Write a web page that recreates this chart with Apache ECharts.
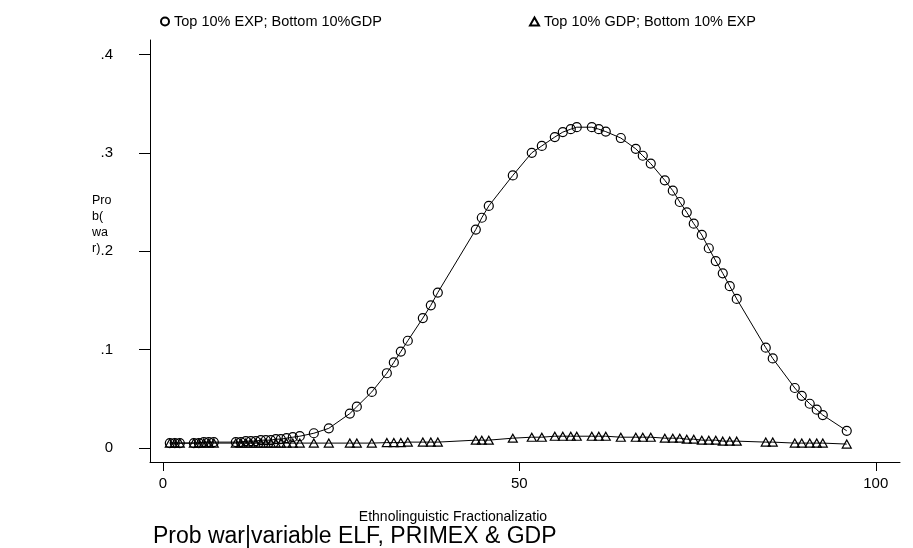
<!DOCTYPE html>
<html>
<head>
<meta charset="utf-8">
<script src="https://cdn.jsdelivr.net/npm/echarts@6/dist/echarts.min.js"></script>
<style>
html,body{margin:0;padding:0;background:#fff;}
#chart{width:913px;height:548px;}
</style>
</head>
<body>
<div id="chart"></div>
<script>
// ELF values (x) shared by both series
const elf = [0.98,1.68,2.38,4.35,5.05,5.75,6.45,7.15,10.24,10.94,11.64,12.34,13.04,13.74,14.45,15.15,15.85,16.55,
  17.35,18.23,19.21,21.18,23.28,26.23,27.21,29.31,31.42,32.4,33.38,34.36,36.47,37.59,38.57,43.9,44.74,45.72,
  49.09,51.75,53.16,54.98,56.1,57.22,58.06,60.17,61.15,62.13,64.24,66.34,67.32,68.44,70.41,71.53,72.51,73.49,
  74.47,75.6,76.58,77.56,78.54,79.52,80.5,84.57,85.55,88.64,89.62,90.74,91.72,92.57,95.93];

// Top 10% EXP; Bottom 10% GDP
const probHighExp = [0.005,0.005,0.005,0.005,0.005,0.006,0.006,0.006,0.006,0.006,0.007,0.007,0.007,0.008,0.008,0.008,0.009,0.009,
  0.010,0.011,0.012,0.015,0.020,0.035,0.042,0.057,0.076,0.087,0.098,0.109,0.132,0.145,0.158,0.222,0.234,0.246,
  0.277,0.300,0.307,0.316,0.321,0.324,0.326,0.326,0.324,0.3215,0.315,0.304,0.297,0.289,0.272,0.2615,0.250,0.2395,
  0.228,0.2165,0.203,0.190,0.1775,0.1645,0.1515,0.102,0.091,0.061,0.053,0.045,0.039,0.0335,0.0175];

// Top 10% GDP; Bottom 10% EXP
const probHighGdp = [0.005,0.005,0.005,0.005,0.005,0.005,0.005,0.005,0.005,0.005,0.005,0.005,0.005,0.005,0.005,0.005,0.005,0.005,
  0.005,0.005,0.005,0.005,0.005,0.005,0.005,0.005,0.0055,0.0055,0.0055,0.006,0.006,0.006,0.006,0.008,0.008,0.008,
  0.010,0.011,0.011,0.012,0.012,0.012,0.012,0.012,0.012,0.012,0.011,0.011,0.011,0.011,0.010,0.010,0.010,0.009,
  0.009,0.008,0.008,0.008,0.007,0.007,0.007,0.006,0.006,0.005,0.005,0.005,0.005,0.005,0.004];

const xTicks = [0, 50, 100];
const yTicks = [0, 0.1, 0.2, 0.3, 0.4];
const seriesNames = ['Top 10% EXP; Bottom 10%GDP', 'Top 10% GDP; Bottom 10% EXP'];

const FONT = '"Liberation Sans", Arial, sans-serif';
const chart = echarts.init(document.getElementById('chart'), null, {renderer: 'canvas'});

const pairs = ys => elf.map((x, i) => [x, ys[i]]);

chart.setOption({
  backgroundColor: '#fff',
  animation: false,
  textStyle: {fontFamily: FONT, color: '#000'},
  grid: {left: 150, right: 13, top: 40, bottom: 86, containLabel: false},
  legend: [
    {data: [{name: seriesNames[0], icon: 'circle'}], left: 155, top: 9, itemWidth: 8, itemHeight: 8,
     textStyle: {fontFamily: FONT, fontSize: 14.5, color: '#000'}},
    {data: [{name: seriesNames[1], icon: 'triangle'}], left: 524, top: 9, itemWidth: 9, itemHeight: 8,
     textStyle: {fontFamily: FONT, fontSize: 14.5, color: '#000'}}
  ],
  xAxis: {
    type: 'value', min: -1.8, max: 103.4,
    splitLine: {show: false},
    axisLine: {show: true, onZero: false, lineStyle: {color: '#000', width: 1}},
    axisTick: {show: true, customValues: xTicks, length: 9, lineStyle: {color: '#000'}},
    axisLabel: {customValues: xTicks, color: '#000', fontSize: 15, margin: 14, fontFamily: FONT}
  },
  yAxis: {
    type: 'value', min: -0.0142, max: 0.4146,
    splitLine: {show: false},
    axisLine: {show: true, onZero: false, lineStyle: {color: '#000', width: 1}},
    axisTick: {show: true, customValues: yTicks, length: 11, lineStyle: {color: '#000'}},
    axisLabel: {customValues: yTicks, color: '#000', fontSize: 15, margin: 37, fontFamily: FONT,
      formatter: v => v === 0 ? '0' : String(+v.toFixed(2)).replace(/^0/, '')}
  },
  graphic: [
    {type: 'text', left: 92, top: 193, style: {text: 'Pro\nb(\nwa\nr)', fontFamily: FONT, fontSize: 12.5, lineHeight: 16, fill: '#000'}},
    {type: 'text', x: 453, y: 517, style: {text: 'Ethnolinguistic Fractionalizatio', fontFamily: FONT, fontSize: 14, fill: '#000', align: 'center', verticalAlign: 'middle'}},
    {type: 'text', x: 153, y: 537, style: {text: 'Prob war|variable ELF, PRIMEX & GDP', fontFamily: FONT, fontSize: 23, fill: '#000', align: 'left', verticalAlign: 'middle'}}
  ],
  series: [
    {name: seriesNames[0], type: 'line', data: pairs(probHighExp), symbol: 'circle', symbolSize: 9,
     lineStyle: {color: '#000', width: 1}, itemStyle: {color: 'rgba(255,255,255,0)', borderColor: '#000', borderWidth: 1.2}},
    {name: seriesNames[1], type: 'line', data: pairs(probHighGdp), symbol: 'triangle', symbolSize: [9, 8],
     lineStyle: {color: '#000', width: 1}, itemStyle: {color: 'rgba(255,255,255,0)', borderColor: '#000', borderWidth: 1.2}}
  ]
});
</script>
</body>
</html>
